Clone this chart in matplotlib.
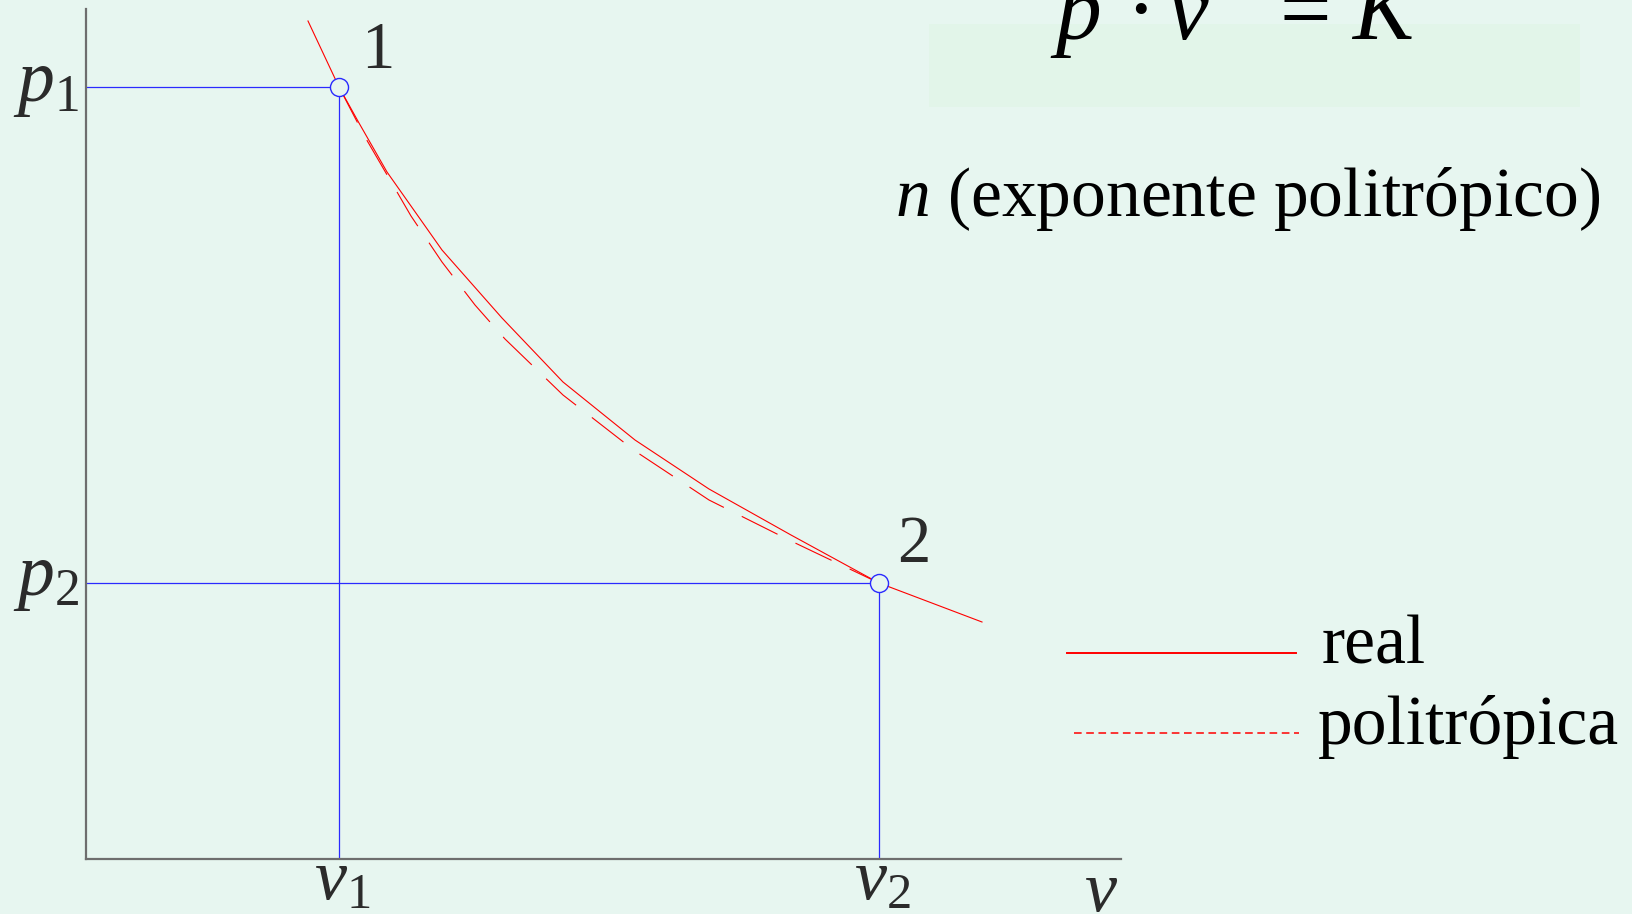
import numpy as np
import matplotlib
matplotlib.use('Agg')
import matplotlib.pyplot as plt
from matplotlib.lines import Line2D
from matplotlib.patches import Rectangle

plt.rcParams['font.family'] = ['Liberation Serif', 'DejaVu Serif']
plt.rcParams['mathtext.fontset'] = 'custom'
plt.rcParams['mathtext.rm'] = 'Liberation Serif'
plt.rcParams['mathtext.it'] = 'Liberation Serif:italic'

BG = '#e7f6f0'
BOX = '#e2f5e9'
RED = '#ff0000'
BLUE = '#2a2aff'

# state points
v1, p1 = 2.53, 7.72
v2, p2 = 7.93, 2.76

# measured (real) process
v_real = [2.22, 2.53, 2.73, 3.01, 3.56, 4.16, 4.77, 5.49, 6.23, 7.05, 7.93, 8.96]
p_real = [8.38, 7.72, 7.36, 6.87, 6.09, 5.41, 4.77, 4.19, 3.70, 3.24, 2.76, 2.37]

# fitted polytropic process
v_poly = [2.53, 2.79, 3.25, 3.56, 3.89, 4.19, 4.77, 5.49, 6.23, 7.05, 7.93]
p_poly = [7.72, 7.22, 6.43, 5.97, 5.54, 5.20, 4.64, 4.08, 3.59, 3.18, 2.76]

W, H = 1632, 914
fig = plt.figure(figsize=(W / 100, H / 100), dpi=100, facecolor=BG)
ax = fig.add_axes([86 / W, (H - 859) / H, (1121 - 86) / W, (859 - 9) / H])
ax.patch.set_visible(False)
ax.set_xlim(0, 10.35)
ax.set_ylim(0, 8.5)
for s in ['top', 'right']:
    ax.spines[s].set_visible(False)
for s in ['left', 'bottom']:
    ax.spines[s].set_color('#6e6e6e')
    ax.spines[s].set_linewidth(1.6)
ax.set_xticks([])
ax.set_yticks([])

# guide lines to the axes
ax.plot([0, v1, v1], [p1, p1, 0], color=BLUE, lw=0.9, zorder=2)
ax.plot([0, v2, v2], [p2, p2, 0], color=BLUE, lw=0.9, zorder=2)

ax.plot(v_real, p_real, color=RED, lw=0.8, zorder=3)
ax.plot(v_poly, p_poly, color=RED, lw=0.8, dashes=(36, 18), zorder=3)

ax.plot([v1, v2], [p1, p2], 'o', ms=13, mfc=BG, mec=BLUE, mew=1.0, zorder=4,
        clip_on=False)

# point numbers
ax.text(v1 + 0.22, p1 + 0.19, '1', fontsize=48, color='#2b2b2b', ha='left', va='baseline')
ax.text(v2 + 0.18, p2 + 0.21, '2', fontsize=48, color='#2b2b2b', ha='left', va='baseline')


def ftext(x, y, s, **kw):
    fig.text(x / W, 1 - y / H, s, **kw)


# axis labels
ftext(13, 101, r'$p_{1}$', fontsize=53, color='#2b2b2b', ha='left', va='baseline')
ftext(13, 595, r'$p_{2}$', fontsize=53, color='#2b2b2b', ha='left', va='baseline')
ftext(314, 899, r'$v_{1}$', fontsize=52, color='#2b2b2b', ha='left', va='baseline')
ftext(854, 899, r'$v_{2}$', fontsize=52, color='#2b2b2b', ha='left', va='baseline')
ftext(1084, 911, r'$v$', fontsize=52, color='#2b2b2b', ha='left', va='baseline')

# polytropic relation  p·v^n = K
fig.add_artist(Rectangle((929 / W, 1 - 107 / H), (1580 - 929) / W, (107 - 24) / H,
                         transform=fig.transFigure, facecolor=BOX, edgecolor='none',
                         zorder=0))
eq = dict(fontsize=66, color='black', va='baseline')
ftext(1055, 39, 'p', style='italic', ha='left', **eq)
ftext(1140, 39, '·', ha='center', **eq)
ftext(1168, 39, 'v', style='italic', ha='left', **eq)
ftext(1214, -12, 'n', style='italic', ha='left', fontsize=46, color='black',
      va='baseline')
ftext(1279, 39, '=', ha='left', **eq)
ftext(1352, 39, 'K', style='italic', ha='left', **eq)

ftext(895, 216, r'$n$ (exponente politrópico)', fontsize=50, color='black',
      ha='left', va='baseline')

# legend
fig.add_artist(Line2D([1067 / W, 1296 / W], [1 - 653 / H, 1 - 653 / H],
                      transform=fig.transFigure, color=RED, lw=1.4))
fig.add_artist(Line2D([1074 / W, 1299 / W], [1 - 733 / H, 1 - 733 / H],
                      transform=fig.transFigure, color=RED, lw=1.1, dashes=(5, 3)))
ftext(1322, 663, 'real', fontsize=50, color='black', ha='left', va='baseline')
ftext(1318, 744, 'politrópica', fontsize=50, color='black', ha='left', va='baseline')

fig.savefig('out.png', dpi=100, facecolor=BG)
